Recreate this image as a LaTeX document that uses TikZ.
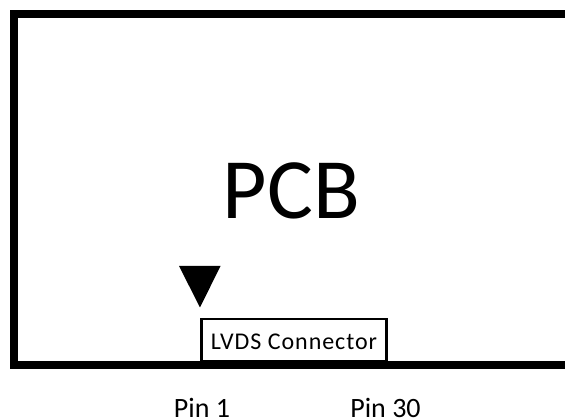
\documentclass[tikz,border=0pt]{standalone}
\usepackage{fontspec}
\setmainfont{Carlito}
\newfontfamily\spaced[LetterSpace=4]{Carlito}
\begin{document}
\begin{tikzpicture}[x=1pt,y=-1pt,
  lab/.style={inner sep=0pt,text=black},
  frame/.style={line width=7.8pt,draw=black,line cap=butt,line join=miter}]
\useasboundingbox (0,0) rectangle (565,419);
\fill[white] (0,0) rectangle (565,419);
\coordinate (tr) at (565,13.7);
\coordinate (tl) at (14,13.7);
\coordinate (bl) at (14,365);
\coordinate (br) at (565,365);
\draw[frame] (tr) -- (tl) -- (bl) -- (br);
\node[lab,font=\fontsize{86}{86}\selectfont] (pcb) at (291.5,191) {PCB};
\node[draw=black,line width=2.4pt,minimum width=185pt,minimum height=42.5pt,inner sep=0pt] (conn) at (294,340) {};
\node[lab,font=\spaced\fontsize{24}{24}\selectfont] (conntext) at (294,342) {LVDS Connector};
\fill[black] (179,266) -- (220.5,266) -- (200,307.5) -- cycle;
\node[lab,anchor=base,font=\fontsize{28}{28}\selectfont] (p1) at (202,417.5) {Pin 1};
\node[lab,anchor=base,font=\fontsize{28}{28}\selectfont] (p30) at (385.5,417.5) {Pin 30};
\end{tikzpicture}
\end{document}
